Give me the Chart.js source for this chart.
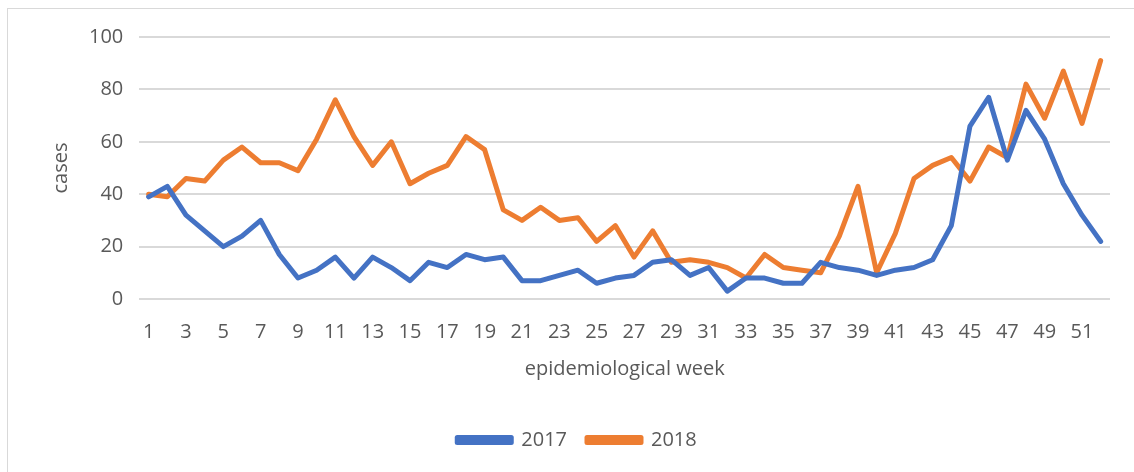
<!DOCTYPE html>
<html>
<head>
<meta charset="utf-8">
<script src="https://cdn.jsdelivr.net/npm/chart.js@4/dist/chart.umd.min.js"></script>
<style>
    html, body { margin: 0; padding: 0; background: #fff; overflow: hidden; }
    #frame {
        position: absolute; left: 7px; top: 8px; width: 1140px; height: 480px;
        border: 1px solid #d9d9d9; box-sizing: border-box;
    }
    #wrap { position: absolute; left: 0; top: 3px; width: 1134px; height: 469px; }
</style>
</head>
<body>
<div id="frame"></div>
<div id="wrap"><canvas id="chart"></canvas></div>
<script>
// ============================================
// DATA
// ============================================

const weeks = [];
for (let w = 1; w <= 52; w++) weeks.push(String(w));

const cases2017 = [39, 43, 32, 26, 20, 24, 30, 17, 8, 11, 16, 8, 16, 12, 7, 14, 12, 17, 15, 16,
    7, 7, 9, 11, 6, 8, 9, 14, 15, 9, 12, 3, 8, 8, 6, 6, 14, 12, 11, 9,
    11, 12, 15, 28, 66, 77, 53, 72, 61, 44, 32, 22];

const cases2018 = [40, 39, 46, 45, 53, 58, 52, 52, 49, 61, 76, 62, 51, 60, 44, 48, 51, 62, 57, 34,
    30, 35, 30, 31, 22, 28, 16, 26, 14, 15, 14, 12, 8, 17, 12, 11, 10, 24, 43, 10,
    25, 46, 51, 54, 45, 58, 54, 82, 69, 87, 67, 91];

const yTicks = [0, 20, 40, 60, 80, 100];

// ============================================
// CHART
// ============================================

const textColor = '#595959';
const gridColor = '#d9d9d9';
const fontFamily = "'Open Sans', 'Noto Sans', sans-serif";
const fontSize = 20;

new Chart(document.getElementById('chart').getContext('2d'), {
    type: 'line',
    data: {
        labels: weeks,
        datasets: [
            {
                label: '2017',
                data: cases2017,
                borderColor: '#4472C4',
                backgroundColor: '#4472C4',
                borderWidth: 5,
                pointRadius: 0,
                tension: 0,
                borderJoinStyle: 'round',
                borderCapStyle: 'round'
            },
            {
                label: '2018',
                data: cases2018,
                borderColor: '#ED7D31',
                backgroundColor: '#ED7D31',
                borderWidth: 5,
                pointRadius: 0,
                tension: 0,
                borderJoinStyle: 'round',
                borderCapStyle: 'round'
            }
        ]
    },
    options: {
        responsive: true,
        maintainAspectRatio: false,
        animation: false,
        layout: { padding: { left: 44, right: 24, top: 34, bottom: 12 } },
        plugins: {
            tooltip: { enabled: false },
            legend: {
                position: 'bottom',
                labels: {
                    color: textColor,
                    font: { family: fontFamily, size: fontSize },
                    boxWidth: 54,
                    boxHeight: 5,
                    padding: 20
                }
            }
        },
        scales: {
            x: {
                offset: true,
                grid: { display: false },
                border: { display: false },
                ticks: {
                    color: textColor,
                    font: { family: fontFamily, size: fontSize },
                    autoSkip: false,
                    maxRotation: 0,
                    padding: 13,
                    callback: function(v, i) { return i % 2 === 0 ? weeks[i] : ''; }
                },
                title: {
                    display: true,
                    text: 'epidemiological week',
                    color: textColor,
                    font: { family: fontFamily, size: fontSize },
                    padding: { top: 0, bottom: 29 }
                }
            },
            y: {
                min: yTicks[0],
                max: yTicks[yTicks.length - 1],
                afterBuildTicks: function(axis) { axis.ticks = yTicks.map(v => ({ value: v })); },
                grid: { color: gridColor, lineWidth: 2, drawTicks: false },
                border: { display: false },
                ticks: {
                    color: textColor,
                    font: { family: fontFamily, size: fontSize },
                    padding: 16
                },
                title: {
                    display: true,
                    text: 'cases',
                    color: textColor,
                    font: { family: fontFamily, size: fontSize },
                    padding: { top: 5, bottom: 0 }
                }
            }
        }
    }
});
</script>
</body>
</html>
